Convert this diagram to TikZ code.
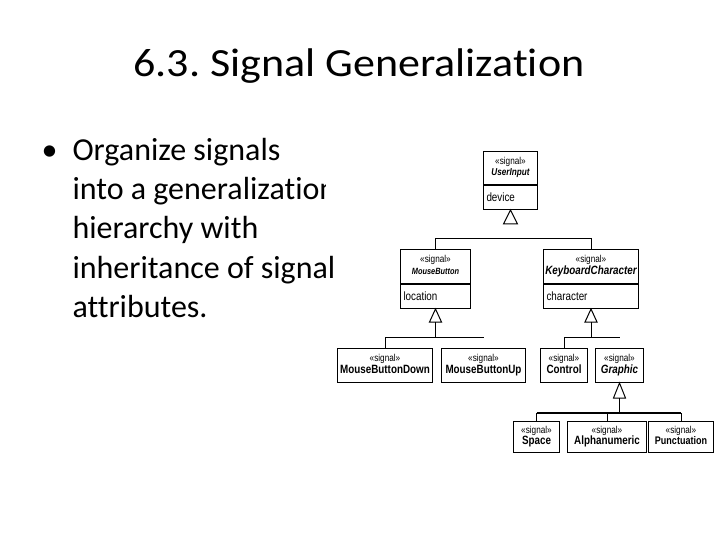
\documentclass[tikz,border=0pt]{standalone}
\usepackage{fontspec}
\setmainfont[Ligatures=NoCommon]{Carlito}
\newfontfamily\titlefont[FakeStretch=1.1,Ligatures=NoCommon]{Carlito}
\newfontfamily\umlfont[FakeStretch=0.82]{Liberation Sans}
\usetikzlibrary{calc}

\tikzset{
  sighead/.style={draw, line width=1pt, inner sep=0pt, anchor=north west, align=center, font=\umlfont, minimum height=34pt},
  sigattr/.style={draw, line width=1pt, anchor=north, inner xsep=3pt, inner ysep=0pt, minimum height=24pt, align=left, font=\umlfont\fontsize{12}{13}\selectfont},
  genbar/.style={line width=1pt},
  gentri/.style={line width=1pt, fill=white},
  slidetext/.style={anchor=base west, font=\fontsize{32}{39}\selectfont}
}
\newcommand{\stereo}{{\fontsize{10}{11}\selectfont «signal»\strut}}
\newcommand{\abst}[2][12]{{\fontsize{#1}{13}\selectfont\bfseries\itshape #2\strut}}
\newcommand{\conc}[2][12]{{\fontsize{#1}{13}\selectfont\bfseries #2\strut}}

\begin{document}
\begin{tikzpicture}[x=1pt,y=-1pt]
\useasboundingbox (0,0) rectangle (720,540);
% title and bullet text
\node[anchor=base, font=\titlefont\fontsize{40}{48}\selectfont] (title) at (359,77) {\frenchspacing 6.3. Signal Generalization};
\node[slidetext] (bul) at (38,161) {•};
\foreach \txt [count=\i from 0] in {Organize signals, into a generalization, hierarchy with, inheritance of signal, attributes.}
  \node[slidetext] (line\i) at (69,{161+39*\i}) {\txt};
\fill[white] (326,165) rectangle (480,215);

% signal classes
\node[sighead, minimum width=54pt, minimum height=33pt] (uih) at (483,151) {\stereo\\[-2pt]\abst[10]{UserInput}};
\node[sigattr, text width=48pt] (uia) at (uih.south) {device};
\node[sighead, minimum width=70pt] (mbh) at (400,249) {\stereo\\[-2pt]\abst[9]{MouseButton}};
\node[sigattr, text width=64pt] (mba) at (mbh.south) {location};
\node[sighead, minimum width=95pt] (kch) at (543,249) {\stereo\\[-2pt]\abst{KeyboardCharacter}};
\node[sigattr, text width=89pt] (kca) at (kch.south) {character};
\node[sighead, minimum width=95pt] (mbd) at (337,348) {\stereo\\[-2pt]\conc{MouseButtonDown}};
\node[sighead, minimum width=84pt] (mbu) at (441,348) {\stereo\\[-2pt]\conc{MouseButtonUp}};
\node[sighead, minimum width=47pt] (ctl) at (540,348) {\stereo\\[-2pt]\conc{Control}};
\node[sighead, minimum width=48pt] (gra) at (595,348) {\stereo\\[-2pt]\abst{Graphic}};
\node[sighead, minimum width=46pt, minimum height=31pt] (spc) at (513,421) {\stereo\\[-2pt]\conc{Space}};
\node[sighead, minimum width=79pt, minimum height=31pt] (aln) at (567,421) {\stereo\\[-2pt]\conc{Alphanumeric}};
\node[sighead, minimum width=65pt, minimum height=31pt] (pun) at (648,421) {\stereo\\[-2pt]\conc[11]{Punctuation}};

% UserInput
\draw[gentri] (uia.south) -- ++(-7,14) -- ++(14,0) -- cycle;
\coordinate (uibar) at ($(uia.south)+(0,28)$);
\draw[genbar] (mbh.north) -- (mbh.north |- uibar) -- (kch.north |- uibar) -- (kch.north);

% MouseButton
\draw[gentri] (mba.south) -- ++(-6,13) -- ++(12,0) -- cycle;
\coordinate (mbbar) at ($(mba.south)+(0,28)$);
\draw[genbar] ($(mba.south)+(0,13)$) -- (mbbar);
\draw[genbar] (mbd.north) -- (mbd.north |- mbbar) -- (mbu.north |- mbbar);

% KeyboardCharacter
\draw[gentri] (kca.south) -- ++(-6,13) -- ++(12,0) -- cycle;
\coordinate (kcbar) at ($(kca.south)+(0,28)$);
\draw[genbar] ($(kca.south)+(0,13)$) -- (kcbar);
\draw[genbar] (ctl.north) -- (ctl.north |- kcbar) -- (gra.north |- kcbar);

% Graphic
\draw[gentri] (gra.south) -- ++(-6,15) -- ++(12,0) -- cycle;
\coordinate (grbar) at ($(gra.south)+(0,30)$);
\draw[genbar] ($(gra.south)+(0,15)$) -- (grbar);
\draw[line width=2.2pt] (spc.north |- grbar) -- (pun.north |- grbar);
\draw[genbar] (spc.north) -- (spc.north |- grbar);
\draw[genbar] (aln.north) -- (aln.north |- grbar);
\draw[genbar] (pun.north) -- (pun.north |- grbar);
\end{tikzpicture}
\end{document}
